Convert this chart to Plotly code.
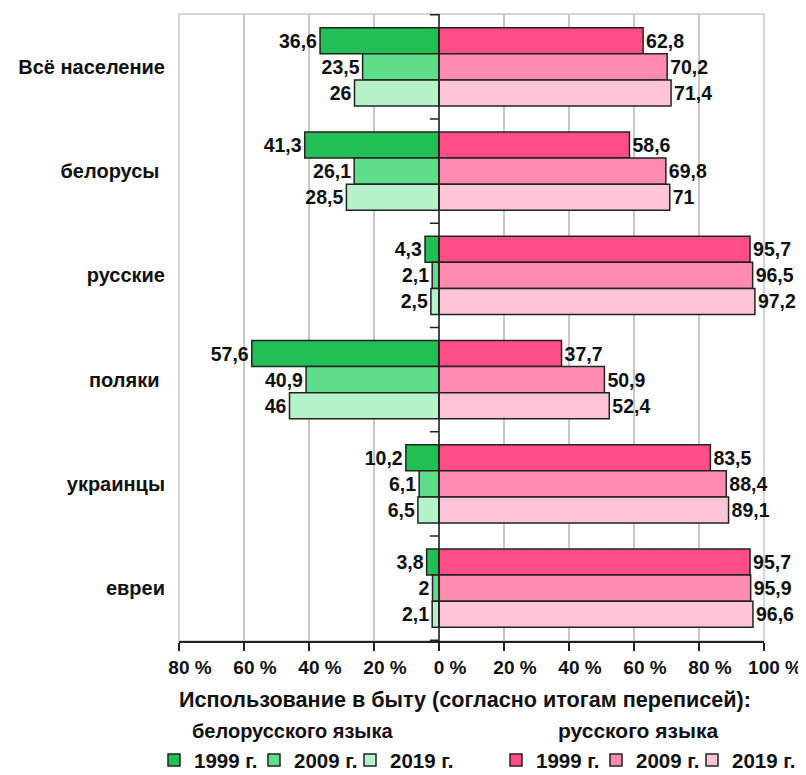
import plotly.graph_objects as go

categories = ["Всё население", "белорусы ", "русские", "поляки ", "украинцы", "евреи"]
years = ["1999 г.", "2009 г.", "2019 г."]
belarusian = {
    "1999 г.": [36.6, 41.3, 4.3, 57.6, 10.2, 3.8],
    "2009 г.": [23.5, 26.1, 2.1, 40.9, 6.1, 2.0],
    "2019 г.": [26.0, 28.5, 2.5, 46.0, 6.5, 2.1],
}
russian = {
    "1999 г.": [62.8, 58.6, 95.7, 37.7, 83.5, 95.7],
    "2009 г.": [70.2, 69.8, 96.5, 50.9, 88.4, 95.9],
    "2019 г.": [71.4, 71.0, 97.2, 52.4, 89.1, 96.6],
}
x_ticks = [-80, -60, -40, -20, 0, 20, 40, 60, 80, 100]
x_tick_labels = ["80 %", "60 %", "40 %", "20 %", "0 %", "20 %", "40 %", "60 %", "80 %", "100 %"]

green = ["#22bf55", "#5ede8a", "#b5f2c9"]
pink = ["#ff4d85", "#ff8cb0", "#ffc4d7"]

def fmt(v):
    s = ("%.1f" % v).rstrip("0").rstrip(".")
    return s.replace(".", ",")

FONT = "Liberation Sans"
INK = "#111111"
def f(size):
    return dict(family=FONT, size=size, color=INK, weight="bold")

legend_ids = ["legend", "legend2", "legend3", "legend4", "legend5", "legend6"]
# pixel x where each legend label text starts
legend_text_x = [194, 294, 390, 536, 636, 732]

fig = go.Figure()
for i, yr in enumerate(years):
    fig.add_trace(go.Bar(
        y=categories, x=[-v for v in belarusian[yr]], orientation="h",
        name=yr, offsetgroup=yr, legend=legend_ids[i],
        marker=dict(color=green[i], line=dict(color="#222222", width=1.5)),
        text=[fmt(v) for v in belarusian[yr]], textposition="outside",
        textfont=f(19.5), cliponaxis=False, hoverinfo="skip",
    ))
for i, yr in enumerate(years):
    fig.add_trace(go.Bar(
        y=categories, x=russian[yr], orientation="h",
        name=yr, offsetgroup=yr, legend=legend_ids[3 + i],
        marker=dict(color=pink[i], line=dict(color="#222222", width=1.5)),
        text=[fmt(v) for v in russian[yr]], textposition="outside",
        textfont=f(19.5), cliponaxis=False, hoverinfo="skip",
    ))

shapes = [
    dict(type="rect", xref="paper", yref="paper", x0=0, x1=1, y0=0, y1=1,
         line=dict(color="#c8c8c8", width=1.5), layer="below"),
    dict(type="line", xref="x", yref="paper", x0=0, x1=0, y0=0, y1=1,
         line=dict(color="#222222", width=1.5), layer="above"),
]
for k in range(len(categories) + 1):
    yb = k - 0.5
    shapes.append(dict(type="line", xref="x", yref="y", x0=-2.8, x1=0, y0=yb, y1=yb,
                       line=dict(color="#222222", width=1.5)))

PLOT_L, PLOT_W = 179, 585
legends = {}
for lid, tx in zip(legend_ids, legend_text_x):
    legends[lid] = dict(orientation="h", x=(tx - 40 - PLOT_L) / PLOT_W, xanchor="left",
                        y=-0.19, yanchor="middle", font=f(20.5), itemwidth=30,
                        bgcolor="rgba(0,0,0,0)")

# the page body adds an 8px offset; the figure is sized to fill the rest of the window
fig.update_layout(
    width=798, height=767,
    margin=dict(l=171, r=42, t=6, b=134, autoexpand=False),
    paper_bgcolor="white", plot_bgcolor="white",
    barmode="group", bargap=0.25, bargroupgap=0,
    font=f(18),
    xaxis=dict(range=[-80, 100], tickvals=x_ticks, ticktext=x_tick_labels,
               showgrid=True, gridcolor="#c8c8c8", gridwidth=1.5,
               zeroline=False, showline=True, linecolor="#222222", linewidth=1.5,
               ticks="outside", ticklen=8, tickcolor="#222222", tickwidth=1.5,
               tickfont=f(19), ticklabelshift=11, automargin=False, fixedrange=True),
    yaxis=dict(autorange="reversed", showgrid=False, zeroline=False,
               showline=False, ticks="", ticklabelstandoff=13,
               tickfont=f(20), automargin=False, fixedrange=True),
    shapes=shapes,
    annotations=[
        dict(text="Использование в быту (согласно итогам переписей):", xref="paper", yref="paper",
             x=-0.004, y=-0.094, xanchor="left", yanchor="middle", showarrow=False,
             font=f(21.6)),
        dict(text="белорусского языка", xref="paper", yref="paper",
             x=(292 - 179) / 585, y=-0.143, xanchor="center", yanchor="middle", showarrow=False,
             font=f(20)),
        dict(text="русского языка", xref="paper", yref="paper",
             x=(638 - 179) / 585, y=-0.143, xanchor="center", yanchor="middle", showarrow=False,
             font=f(21)),
    ],
    showlegend=True,
    **legends,
)
fig.write_html("out.html")
